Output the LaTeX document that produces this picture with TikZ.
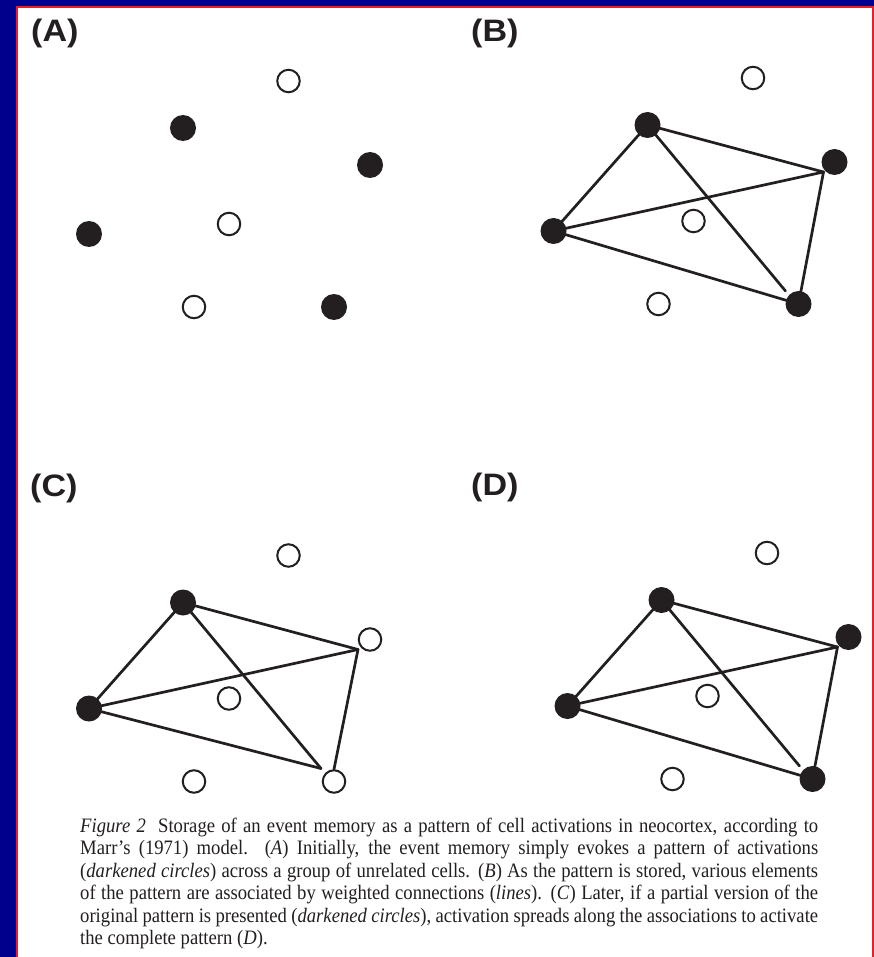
\documentclass[tikz,border=0pt]{standalone}
\usepackage{fontspec}
\setmainfont{Liberation Serif}
\newfontfamily\capfont[FakeStretch=0.91]{Liberation Serif}
\newfontfamily\labelfont[FakeStretch=1.1]{Liberation Sans}
\definecolor{framebg}{RGB}{0,0,140}
\definecolor{framered}{RGB}{235,30,40}
\definecolor{ink}{RGB}{35,31,32}
\tikzset{
  on/.style={circle, fill=ink, minimum size=26pt, inner sep=0pt},
  off/.style={circle, draw=ink, fill=white, line width=2pt, minimum size=22.5pt, inner sep=0pt},
  link/.style={draw=ink, line width=2.7pt, line cap=round},
  panellabel/.style={anchor=base west, inner sep=0pt, text=ink, font=\labelfont\bfseries\fontsize{31}{31}\selectfont},
  capline/.style={anchor=base west, inner sep=0pt, text=ink, font=\capfont\fontsize{20.5}{22.5}\selectfont},
}
\begin{document}
\begin{tikzpicture}[x=1pt,y=-1pt]
\useasboundingbox (0,0) rectangle (874,957);
\fill[framebg] (0,0) rectangle (874,957);
\fill[white] (17,7) rectangle (873,957);
\draw[framered, line width=1.5pt] (17,957) -- (17,7) -- (873,7) -- (873,957);

% panel labels
\node[panellabel] (labA) at (31,42) {(A)};
\node[panellabel] (labB) at (471,42) {(B)};
\node[panellabel] (labC) at (30,496) {(C)};
\node[panellabel] (labD) at (471,495) {(D)};

% panel A
\node[off] (aO) at (288.5,81) {};
\node[on]  (aT) at (183,128) {};
\node[on]  (aR) at (370,165) {};
\node[off] (aM) at (229,224) {};
\node[on]  (aL) at (89,234) {};
\node[off] (aB) at (194,307) {};
\node[on]  (aBR) at (334,307) {};

% panel B
\begin{scope}[shift={(464.5,-3)}]
\node[off] (bO) at (288.5,81) {};
\node[on]  (bT) at (183,128) {};
\node[on]  (bR) at (370,165) {};
\node[off] (bM) at (229,224) {};
\node[on]  (bL) at (89,234) {};
\node[off] (bB) at (194,307) {};
\node[on]  (bBR) at (334,307) {};
\coordinate (bRc) at (359,175);
\coordinate (bBRc) at (321,294);
\end{scope}
\draw[link] (bT.center) -- (bL.center);
\draw[link] (bT.center) -- (bRc);
\draw[link] (bT.center) -- (bBRc);
\draw[link] (bL.center) -- (bRc);
\draw[link] (bL.center) -- (bBR.center);
\draw[link] (bBR.center) -- (bRc);

% panel C
\begin{scope}[shift={(0,474.5)}]
\node[off] (cO) at (288.5,81) {};
\node[on]  (cT) at (183,128) {};
\node[off] (cR) at (370,165) {};
\node[off] (cM) at (229,224) {};
\node[on]  (cL) at (89,234) {};
\node[off] (cB) at (194,307) {};
\node[off] (cBR) at (334,307) {};
\coordinate (cRc) at (358,175);
\coordinate (cBRc) at (321,294);
\end{scope}
\draw[link] (cT.center) -- (cL.center);
\draw[link] (cT.center) -- (cRc);
\draw[link] (cT.center) -- (cBRc);
\draw[link] (cL.center) -- (cRc);
\draw[link] (cL.center) -- (cBRc);
\draw[link] (cBR.north) -- (cRc);

% panel D
\begin{scope}[shift={(478.5,472)}]
\node[off] (dO) at (288.5,81) {};
\node[on]  (dT) at (183,128) {};
\node[on]  (dR) at (370,165) {};
\node[off] (dM) at (229,224) {};
\node[on]  (dL) at (89,234) {};
\node[off] (dB) at (194,307) {};
\node[on]  (dBR) at (334,307) {};
\coordinate (dRc) at (359,175);
\coordinate (dBRc) at (321,294);
\end{scope}
\draw[link] (dT.center) -- (dL.center);
\draw[link] (dT.center) -- (dRc);
\draw[link] (dT.center) -- (dBRc);
\draw[link] (dL.center) -- (dRc);
\draw[link] (dL.center) -- (dBR.center);
\draw[link] (dBR.center) -- (dRc);

% caption
\node[capline] (cap1) at (80,832) {\makebox[738pt][s]{\textit{Figure 2}\hspace{0.6em}Storage of an event memory as a pattern of cell activations in neocortex, according to}};
\node[capline] (cap2) at (80,854.5) {\makebox[738pt][s]{Marr’s (1971) model. (\textit{A}) Initially, the event memory simply evokes a pattern of activations}};
\node[capline] (cap3) at (80,877) {\makebox[738pt][s]{(\textit{darkened circles}) across a group of unrelated cells. (\textit{B}) As the pattern is stored, various elements}};
\node[capline] (cap4) at (80,899.5) {\makebox[738pt][s]{of the pattern are associated by weighted connections (\textit{lines}). (\textit{C}) Later, if a partial version of the}};
\node[capline] (cap5) at (80,922) {\makebox[738pt][s]{original pattern is presented (\textit{darkened circles}), activation spreads along the associations to activate}};
\node[capline] (cap6) at (80,944.5) {the complete pattern (\textit{D}).};
\end{tikzpicture}
\end{document}
